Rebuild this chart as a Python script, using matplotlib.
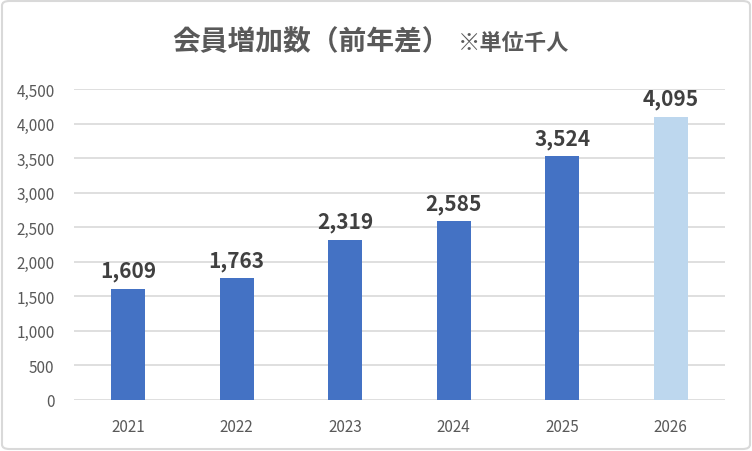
import numpy as np
import matplotlib.pyplot as plt
from matplotlib.patches import FancyBboxPatch

plt.rcParams['font.family'] = ['Noto Sans CJK JP', 'DejaVu Sans']

years = ['2021', '2022', '2023', '2024', '2025', '2026']
values = [1609, 1763, 2319, 2585, 3524, 4095]
colors = ['#4472C4'] * 5 + ['#BDD7EE']

W, H = 752, 452
fig = plt.figure(figsize=(W / 100, H / 100), dpi=100)
ax = fig.add_axes([74 / W, 1 - 401 / H, (725 - 74) / W, (401 - 90) / H])

x = np.arange(len(years))
bars = ax.bar(x, values, width=0.31, color=colors, zorder=3)
for xi, v in zip(x, values):
    ax.text(xi, v + 110, f'{v:,}', ha='center', va='bottom',
            fontsize=15, fontweight='bold', color='#404040')

ax.set_xlim(-0.5, 5.5)
ax.set_ylim(0, 4500)
ax.set_yticks(np.arange(0, 4501, 500))
ax.set_yticklabels([f'{t:,}' for t in range(0, 4501, 500)])
ax.set_xticks(x)
ax.set_xticklabels(years)
ax.tick_params(axis='both', length=0, labelsize=11, labelcolor='#595959')
ax.tick_params(axis='y', pad=14)
ax.tick_params(axis='x', pad=13)
ax.grid(axis='y', color='#D9D9D9', linewidth=1.2, zorder=0)
for s in ax.spines.values():
    s.set_visible(False)

fig.text(450 / W, 1 - 42 / H, '会員増加数（前年差）', ha='right', va='center',
         fontsize=20, fontweight='bold', color='#595959')
fig.text(458 / W, 1 - 44 / H, '※単位千人', ha='left', va='center',
         fontsize=16, fontweight='bold', color='#595959')

border = FancyBboxPatch((2 / W, 2 / H), 1 - 4 / W, 1 - 4 / H,
                        boxstyle='round,pad=0,rounding_size=0.01',
                        transform=fig.transFigure, fill=False,
                        edgecolor='#D9D9D9', linewidth=1.5)
fig.patches.append(border)

fig.savefig('out.png', dpi=100)
